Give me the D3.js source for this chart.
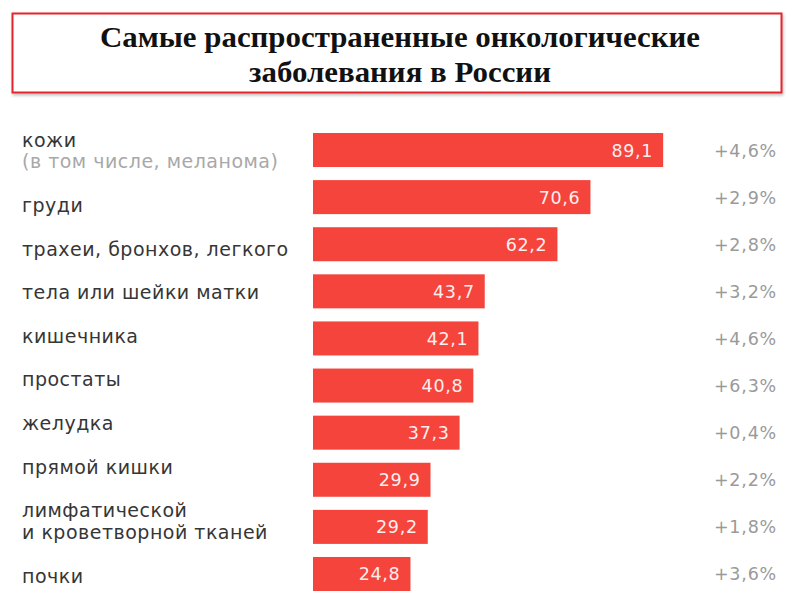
<!DOCTYPE html>
<html>
<head>
<meta charset="utf-8">
<script src="https://cdn.jsdelivr.net/npm/d3@7"></script>
<style>
    body { margin: 0; background: #fff; }
    svg { display: block; }
</style>
</head>
<body>
<svg id="chart"></svg>
<script>
'use strict';

const width = 800;
const height = 600;

const titleLines = ['Самые распространенные онкологические', 'заболевания в России'];

const categories = ['кожи', 'груди', 'трахеи, бронхов, легкого', 'тела или шейки матки', 'кишечника',
    'простаты', 'желудка', 'прямой кишки', 'лимфатической\nи кроветворной тканей', 'почки'];
const notes = ['(в том числе, меланома)', '', '', '', '', '', '', '', '', ''];
const values = [89.1, 70.6, 62.2, 43.7, 42.1, 40.8, 37.3, 29.9, 29.2, 24.8];
const changes = ['+4,6%', '+2,9%', '+2,8%', '+3,2%', '+4,6%', '+6,3%', '+0,4%', '+2,2%', '+1,8%', '+3,6%'];

const barColor = '#f4443c';
const labelFont = '"DejaVu Sans", sans-serif';
const lineHeight = 21.8;

const svg = d3.select('#chart')
    .attr('width', width)
    .attr('height', height);

function renderTitle() {
    const defs = svg.append('defs');
    const shadow = defs.append('filter').attr('id', 'shadow').attr('x', '-5%').attr('y', '-20%').attr('width', '110%').attr('height', '150%');
    shadow.append('feDropShadow').attr('dx', 1).attr('dy', 2).attr('stdDeviation', 1.5).attr('flood-color', '#000').attr('flood-opacity', 0.25);

    svg.append('rect')
        .attr('x', 12.5)
        .attr('y', 13.5)
        .attr('width', 769)
        .attr('height', 79)
        .attr('fill', '#fff')
        .attr('stroke', '#e3262b')
        .attr('stroke-width', 2)
        .attr('filter', 'url(#shadow)');

    // the title in the picture is a little wider than Times, so stretch it sideways
    svg.append('g')
        .attr('transform', `translate(${width / 2}, 0) scale(1.065, 1)`)
        .selectAll('text')
        .data(titleLines)
        .enter()
        .append('text')
        .attr('x', 0)
        .attr('y', (d, i) => 47 + i * 35)
        .attr('text-anchor', 'middle')
        .attr('font-family', '"Liberation Serif", "Times New Roman", serif')
        .attr('font-weight', 'bold')
        .attr('font-size', 29)
        .attr('fill', '#111')
        .text(d => d);
}

function getXScale() {
    return d3.scaleLinear()
        .domain([0, 100])
        .range([313, 313 + 393]);
}

function getYScale() {
    return d3.scaleBand()
        .domain(categories)
        .range([133, 591])
        .paddingInner(0.278)
        .paddingOuter(0);
}

// the labels column is a stacked list: each item is its lines plus one line of gap
function labelCenters() {
    let top = 119.3;
    return categories.map((c, i) => {
        const lines = c.split('\n').length + (notes[i] ? 1 : 0);
        const itemHeight = (lines + 1) * lineHeight;
        const center = top + itemHeight / 2;
        top += itemHeight;
        return center;
    });
}

function renderBars() {
    const x = getXScale();
    const y = getYScale();

    const rows = svg.append('g')
        .selectAll('g')
        .data(categories)
        .enter()
        .append('g');

    rows.append('rect')
        .attr('x', x(0))
        .attr('y', d => y(d))
        .attr('width', (d, i) => x(values[i]) - x(0))
        .attr('height', y.bandwidth())
        .attr('fill', barColor);

    rows.append('text')
        .attr('x', (d, i) => x(values[i]) - 10)
        .attr('y', d => y(d) + y.bandwidth() / 2 + 6.5)
        .attr('text-anchor', 'end')
        .attr('font-family', labelFont)
        .attr('font-size', 17.5)
        .attr('letter-spacing', 0.7)
        .attr('fill', '#fdeeee')
        .text((d, i) => String(values[i]).replace('.', ','));

    rows.append('text')
        .attr('x', 777)
        .attr('y', d => y(d) + y.bandwidth() / 2 + 6.5)
        .attr('text-anchor', 'end')
        .attr('font-family', labelFont)
        .attr('font-size', 17.5)
        .attr('letter-spacing', 0.8)
        .attr('fill', '#9a9a9a')
        .text((d, i) => changes[i]);
}

function renderLabels() {
    const centers = labelCenters();

    categories.forEach((c, i) => {
        const lines = c.split('\n').map(t => ({text: t, note: false}));
        if (notes[i]) lines.push({text: notes[i], note: true});
        const first = centers[i] - (lines.length - 1) * lineHeight / 2;

        svg.append('g')
            .selectAll('text')
            .data(lines)
            .enter()
            .append('text')
            .attr('x', 22)
            .attr('y', (d, j) => first + j * lineHeight + 5.5)
            .attr('font-family', labelFont)
            .attr('font-size', 19)
            .attr('letter-spacing', 0.5)
            .attr('fill', d => d.note ? '#a8a8a8' : '#363636')
            .text(d => d.text);
    });
}

renderTitle();
renderBars();
renderLabels();
</script>
</body>
</html>
